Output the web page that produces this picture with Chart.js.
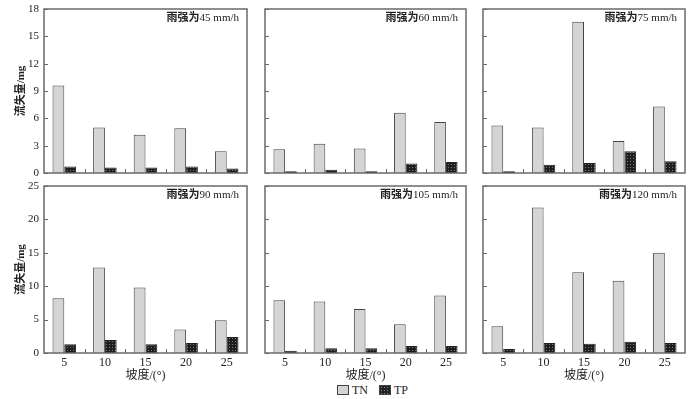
<!DOCTYPE html>
<html>
<head>
<meta charset="utf-8">
<script src="https://cdn.jsdelivr.net/npm/chart.js@4"></script>
<style>
  body { margin: 0; width: 700px; height: 399px; background: #fff; position: relative; overflow: hidden; }
  canvas { position: absolute; }
  #legend { position: absolute; top: 383px; left: 337px; white-space: nowrap;
            font: 12px "Liberation Serif", serif; color: #222; }
  .sw { display: inline-block; width: 10px; height: 8px; border: 1px solid #444; vertical-align: -1px; margin-right: 3px; }
  .tn { background: #d4d4d4; }
  .tp { background: #222; background-image: radial-gradient(#888 30%, transparent 31%); background-size: 3px 3px; margin-left: 11px; }
</style>
</head>
<body>
<div id="legend"><span class="sw tn"></span>TN<span class="sw tp"></span>TP</div>
<script>
// slope categories
const slopes = ["5", "10", "15", "20", "25"];
const rainLabels = ["雨强为45 mm/h", "雨强为60 mm/h", "雨强为75 mm/h", "雨强为90 mm/h", "雨强为105 mm/h", "雨强为120 mm/h"];

// TN loss (mg) per rain intensity
const tn45 = [9.6, 5.0, 4.2, 4.9, 2.4];
const tn60 = [2.6, 3.2, 2.7, 6.6, 5.6];
const tn75 = [5.2, 5.0, 16.6, 3.5, 7.3];
const tn90 = [8.2, 12.8, 9.8, 3.5, 4.9];
const tn105 = [7.9, 7.7, 6.6, 4.3, 8.6];
const tn120 = [4.0, 21.8, 12.1, 10.8, 15.0];

// TP loss (mg)
const tp45 = [0.7, 0.6, 0.6, 0.7, 0.5];
const tp60 = [0.2, 0.35, 0.2, 1.05, 1.2];
const tp75 = [0.2, 0.9, 1.1, 2.4, 1.3];
const tp90 = [1.3, 1.95, 1.3, 1.5, 2.4];
const tp105 = [0.35, 0.7, 0.7, 1.05, 1.05];
const tp120 = [0.6, 1.5, 1.4, 1.7, 1.5];

const topMax = 18, topStep = 3;
const botMax = 25, botStep = 5;

const serif = '"Liberation Serif", "Noto Sans CJK SC", serif';

// dark cross-hatch for TP
function makePattern() {
  const c = document.createElement("canvas");
  c.width = 3; c.height = 3;
  const g = c.getContext("2d");
  g.fillStyle = "#1e1e1e";
  g.fillRect(0, 0, 3, 3);
  g.fillStyle = "#7a7a7a";
  g.fillRect(1, 1, 1, 1);
  return g.createPattern(c, "repeat");
}
const tpFill = makePattern();

// frame, inward ticks, and rain label
const framePlugin = {
  id: "frame",
  afterDatasetsDraw(chart, args, opts) {
    const ctx = chart.ctx, a = chart.chartArea;
    const y = chart.scales.y, x = chart.scales.x;
    ctx.save();
    ctx.strokeStyle = "#6a6a6a";
    ctx.lineWidth = 1.5;
    ctx.strokeRect(a.left, a.top, a.right - a.left, a.bottom - a.top);
    ctx.lineWidth = 1;
    ctx.beginPath();
    y.ticks.forEach(t => {
      const py = Math.round(y.getPixelForValue(t.value)) + 0.5;
      ctx.moveTo(a.left, py); ctx.lineTo(a.left + 4, py);
    });
    for (let i = 1; i < slopes.length; i++) {
      const px = Math.round((x.getPixelForTick(i - 1) + x.getPixelForTick(i)) / 2) + 0.5;
      ctx.moveTo(px, a.bottom); ctx.lineTo(px, a.bottom - 4);
    }
    ctx.stroke();

    // label: Chinese part bold, numbers regular
    const txt = opts.label;
    const cut = txt.search(/\d/);
    const head = txt.slice(0, cut), tail = txt.slice(cut);
    ctx.fillStyle = "#222";
    ctx.textBaseline = "middle";
    ctx.textAlign = "left";
    ctx.font = "11px " + serif;
    const wTail = ctx.measureText(tail).width;
    ctx.font = "bold 11px " + serif;
    const wHead = ctx.measureText(head).width;
    const x0 = a.right - 8 - wTail - wHead;
    const ty = a.top + 9;
    ctx.fillText(head, x0, ty);
    ctx.font = "11px " + serif;
    ctx.fillText(tail, x0 + wHead, ty);
    ctx.restore();
  }
};

const panels = [
  { tn: tn45, tp: tp45, L: 44, T: 9, R: 247, B: 173, max: topMax, step: topStep, left: true, bottom: false },
  { tn: tn60, tp: tp60, L: 265, T: 9, R: 466, B: 173, max: topMax, step: topStep, left: false, bottom: false },
  { tn: tn75, tp: tp75, L: 483, T: 9, R: 685, B: 173, max: topMax, step: topStep, left: false, bottom: false },
  { tn: tn90, tp: tp90, L: 44, T: 186, R: 247, B: 353, max: botMax, step: botStep, left: true, bottom: true },
  { tn: tn105, tp: tp105, L: 265, T: 186, R: 466, B: 353, max: botMax, step: botStep, left: false, bottom: true },
  { tn: tn120, tp: tp120, L: 483, T: 186, R: 685, B: 353, max: botMax, step: botStep, left: false, bottom: true }
];

panels.forEach((p, i) => {
  const ml = p.left ? p.L : 4;
  const mt = 8, mr = 8;
  const mb = p.bottom ? 30 : 4;
  const cv = document.createElement("canvas");
  const w = (p.R - p.L) + ml + mr, h = (p.B - p.T) + mt + mb;
  cv.width = w; cv.height = h;
  cv.style.left = (p.L - ml) + "px";
  cv.style.top = (p.T - mt) + "px";
  cv.style.width = w + "px";
  cv.style.height = h + "px";
  document.body.appendChild(cv);

  new Chart(cv, {
    type: "bar",
    data: {
      labels: slopes,
      datasets: [
        { label: "TN", data: p.tn, backgroundColor: "#d4d4d4", borderColor: "#444", borderWidth: 1 },
        { label: "TP", data: p.tp, backgroundColor: tpFill, borderColor: "#222", borderWidth: 1 }
      ]
    },
    options: {
      responsive: false,
      animation: false,
      layout: { padding: { top: mt, right: mr, left: 0, bottom: 0 } },
      categoryPercentage: 0.58,
      barPercentage: 1,
      plugins: {
        legend: { display: false },
        tooltip: { enabled: false },
        frame: { label: rainLabels[i] }
      },
      scales: {
        x: {
          grid: { display: false, drawTicks: false },
          border: { display: false },
          ticks: { display: p.bottom, color: "#222", padding: 3, font: { family: serif, size: 12 } },
          title: { display: p.bottom, text: "坡度/(°)", color: "#222", padding: 0, font: { family: serif, size: 12 } },
          afterFit(s) { s.height = mb; s.paddingLeft = 0; s.paddingRight = 0; }
        },
        y: {
          min: 0, max: p.max,
          grid: { display: false, drawTicks: false },
          border: { display: false },
          ticks: { display: p.left, stepSize: p.step, color: "#222", padding: 5, font: { family: serif, size: 11 } },
          title: { display: p.left, text: "流失量/mg", color: "#222", padding: { top: 15, bottom: 0 }, font: { family: serif, size: 11, weight: "bold" } },
          afterFit(s) { s.width = ml; s.paddingTop = 0; s.paddingBottom = 0; }
        }
      }
    },
    plugins: [framePlugin]
  });
});
</script>
</body>
</html>
